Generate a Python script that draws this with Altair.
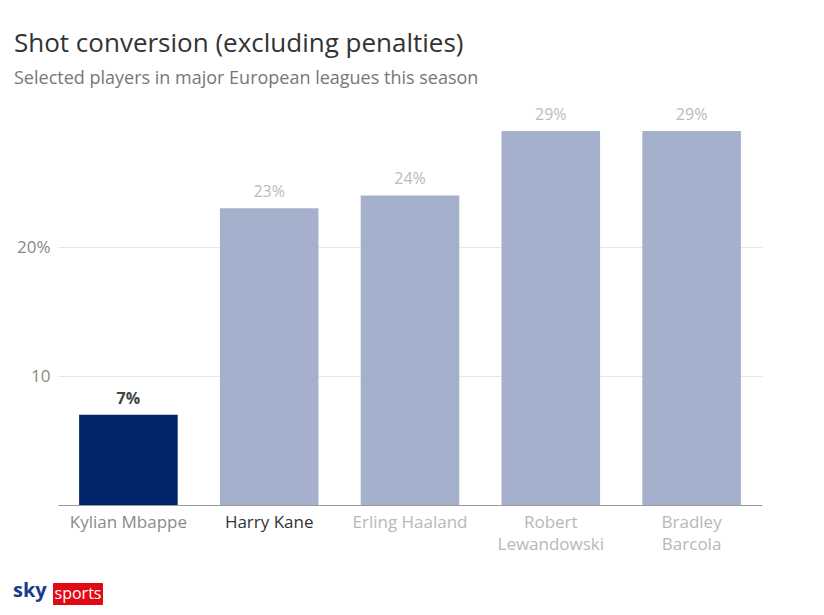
import altair as alt
import pandas as pd

players = ["Kylian Mbappe", "Harry Kane", "Erling Haaland", "Robert Lewandowski", "Bradley Barcola"]
conversion = [7, 23, 24, 29, 29]
y_ticks = [10, 20]

df = pd.DataFrame({"player": players, "value": conversion})
df["label"] = df["value"].astype(str) + "%"

FONT = "Open Sans"
NAVY = "#00256b"
LIGHT = "#a5b1cc"

base = alt.Chart(df)

x_enc = alt.X(
    "player:N", sort=players, title=None,
    scale=alt.Scale(paddingInner=0.3, paddingOuter=0.15),
    axis=alt.Axis(
        labelAngle=0, ticks=False, domainColor="#999", domainWidth=1,
        labelFontSize=17, labelFont=FONT, labelPadding=9, labelLimit=200,
        labelLineHeight=22,
        labelColor=alt.ExprRef(expr="datum.value == 'Harry Kane' ? '#333333' : (datum.value == 'Kylian Mbappe' ? '#8a8a8a' : '#b8b8b8')"),
        labelExpr="datum.label == 'Robert Lewandowski' || datum.label == 'Bradley Barcola' ? split(datum.label, ' ') : datum.label",
    ),
)
y_enc = alt.Y(
    "value:Q", title=None,
    scale=alt.Scale(domain=[0, 30], nice=False),
    axis=alt.Axis(
        values=y_ticks, ticks=False, domain=False, gridColor="#e6e6e6",
        labelFontSize=17, labelFont=FONT, labelColor="#888888", labelPadding=8,
        labelExpr="datum.value == 20 ? '20%' : datum.label",
    ),
)

bars = base.mark_bar().encode(
    x=x_enc, y=y_enc,
    color=alt.condition("datum.player == 'Kylian Mbappe'", alt.value(NAVY), alt.value(LIGHT)),
)

labels = base.mark_text(
    dy=-16, fontSize=16, font=FONT,
    fontWeight=alt.ExprRef(expr="datum.player == 'Kylian Mbappe' ? 'bold' : 'normal'"),
).encode(
    x=alt.X("player:N", sort=players),
    y="value:Q",
    text="label:N",
    color=alt.condition("datum.player == 'Kylian Mbappe'", alt.value("#444444"), alt.value("#bbbbbb")),
)

logo_data = alt.Data(values=[{"a": 1}])
sky = alt.Chart(logo_data).mark_text(
    text="sky", font=FONT, fontSize=20, fontWeight="bold", color="#1a3a8c", align="left", baseline="alphabetic"
).encode(x=alt.value(-45), y=alt.value(479))
red = alt.Chart(logo_data).mark_rect(color="#e10a14", cornerRadius=1).encode(
    x=alt.value(-5), x2=alt.value(45), y=alt.value(465), y2=alt.value(487)
)
sports = alt.Chart(logo_data).mark_text(
    text="sports", font=FONT, fontSize=16, color="white", align="center", baseline="alphabetic"
).encode(x=alt.value(20), y=alt.value(481))

chart = alt.layer(bars, labels, red, sky, sports).properties(
    width=704, height=387,
    autosize=alt.AutoSizeParams(type="none"),
    padding={"left": 50, "top": 110, "right": 50, "bottom": 104},
    title=alt.TitleParams(
        text="Shot conversion (excluding penalties)",
        subtitle="Selected players in major European leagues this season",
        anchor="start", frame="group", dx=-44, offset=19,
        font=FONT, fontSize=26, fontWeight="normal", color="#333333",
        subtitleFont=FONT, subtitleFontSize=18, subtitleColor="#777777", subtitlePadding=13,
    ),
).configure_view(stroke=None)

chart.save("out.html", embed_options={"renderer": "svg", "actions": False})
